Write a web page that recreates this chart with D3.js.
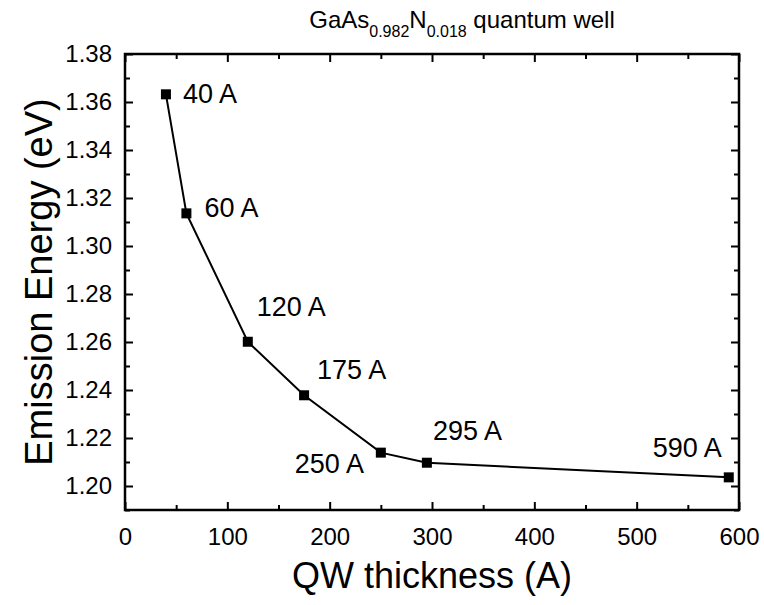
<!DOCTYPE html>
<html>
<head>
<meta charset="utf-8">
<script src="https://cdn.jsdelivr.net/npm/d3@7"></script>
<style>
  html, body { margin: 0; padding: 0; background: #fff; }
  svg { display: block; font-family: "Liberation Sans", Arial, sans-serif; }
</style>
</head>
<body>
<svg id="chart" width="764" height="605"></svg>
<script>
// Data
const thickness = [40, 60, 120, 175, 250, 295, 590];
const energy = [1.3632, 1.3136, 1.2601, 1.2378, 1.2139, 1.2097, 1.2036];
const pointLabels = ["40 A", "60 A", "120 A", "175 A", "250 A", "295 A", "590 A"];
// label offsets relative to marker (dx, dy to baseline)
const labelDx = [17, 18, 9, 13, -86, 6, -76];
const labelDy = [9, 4, -26, -16, 20, -23, -20];
const xTicks = [0, 100, 200, 300, 400, 500, 600];
const xMinor = [50, 150, 250, 350, 450, 550];
const yTicks = [1.20, 1.22, 1.24, 1.26, 1.28, 1.30, 1.32, 1.34, 1.36, 1.38];
const yMinor = [1.19, 1.21, 1.23, 1.25, 1.27, 1.29, 1.31, 1.33, 1.35, 1.37];

const svg = d3.select("#chart");
const L = 125, R = 739, T = 54, B = 510;
const x = d3.scaleLinear().domain([0, 600]).range([L, R]);
const y = d3.scaleLinear().domain([1.19, 1.38]).range([B, T]);

const majorLen = 8, minorLen = 5;

// Axes with inward ticks
svg.append("g").attr("transform", `translate(0,${B})`)
  .call(d3.axisBottom(x).tickValues(xTicks).tickSizeInner(-majorLen).tickSizeOuter(0).tickPadding(18).tickFormat(d3.format("d")));
svg.append("g").attr("transform", `translate(0,${T})`)
  .call(d3.axisTop(x).tickValues(xTicks).tickSizeInner(-majorLen).tickSizeOuter(0).tickFormat(""));
svg.append("g").attr("transform", `translate(${L},0)`)
  .call(d3.axisLeft(y).tickValues(yTicks).tickSizeInner(-majorLen).tickSizeOuter(0).tickPadding(13).tickFormat(d3.format(".2f")));
svg.append("g").attr("transform", `translate(${R},0)`)
  .call(d3.axisRight(y).tickValues(yTicks).tickSizeInner(-majorLen).tickSizeOuter(0).tickFormat(""));

// minor ticks
svg.append("g").attr("transform", `translate(0,${B})`)
  .call(d3.axisBottom(x).tickValues(xMinor).tickSizeInner(-minorLen).tickSizeOuter(0).tickFormat(""));
svg.append("g").attr("transform", `translate(0,${T})`)
  .call(d3.axisTop(x).tickValues(xMinor).tickSizeInner(-minorLen).tickSizeOuter(0).tickFormat(""));
svg.append("g").attr("transform", `translate(${L},0)`)
  .call(d3.axisLeft(y).tickValues(yMinor).tickSizeInner(-minorLen).tickSizeOuter(0).tickFormat(""));
svg.append("g").attr("transform", `translate(${R},0)`)
  .call(d3.axisRight(y).tickValues(yMinor).tickSizeInner(-minorLen).tickSizeOuter(0).tickFormat(""));

svg.selectAll(".domain").remove();
svg.selectAll(".tick line").attr("stroke", "#000").attr("stroke-width", 2);
svg.selectAll(".tick text").attr("fill", "#000").style("font-size", "24px");

// frame
svg.append("rect").attr("x", L).attr("y", T).attr("width", R - L).attr("height", B - T)
  .attr("fill", "none").attr("stroke", "#000").attr("stroke-width", 2.5);

// line
const line = d3.line().x((d, i) => x(thickness[i])).y((d, i) => y(energy[i]));
svg.append("path").datum(energy).attr("d", line)
  .attr("fill", "none").attr("stroke", "#000").attr("stroke-width", 2);

// markers
const ms = 10;
svg.selectAll(".pt").data(energy).enter().append("rect")
  .attr("x", (d, i) => x(thickness[i]) - ms / 2)
  .attr("y", d => y(d) - ms / 2)
  .attr("width", ms).attr("height", ms).attr("fill", "#000");

// point labels
svg.selectAll(".lbl").data(pointLabels).enter().append("text")
  .attr("x", (d, i) => x(thickness[i]) + labelDx[i])
  .attr("y", (d, i) => y(energy[i]) + labelDy[i])
  .style("font-size", "27px").attr("fill", "#000")
  .text(d => d);

// axis titles
svg.append("text").attr("x", (L + R) / 2).attr("y", 588).attr("text-anchor", "middle")
  .style("font-size", "36px").text("QW thickness (A)");
svg.append("text").attr("transform", `translate(52,${(T + B) / 2}) rotate(-90)`).attr("text-anchor", "middle")
  .style("font-size", "38px").text("Emission Energy (eV)");

// title
const title = svg.append("text").attr("x", 462).attr("y", 28).attr("text-anchor", "middle").style("font-size", "24px");
title.append("tspan").text("GaAs");
title.append("tspan").attr("dy", 9).style("font-size", "16px").text("0.982");
title.append("tspan").attr("dy", -9).text("N");
title.append("tspan").attr("dy", 9).style("font-size", "16px").text("0.018");
title.append("tspan").attr("dy", -9).text(" quantum well");
</script>
</body>
</html>
